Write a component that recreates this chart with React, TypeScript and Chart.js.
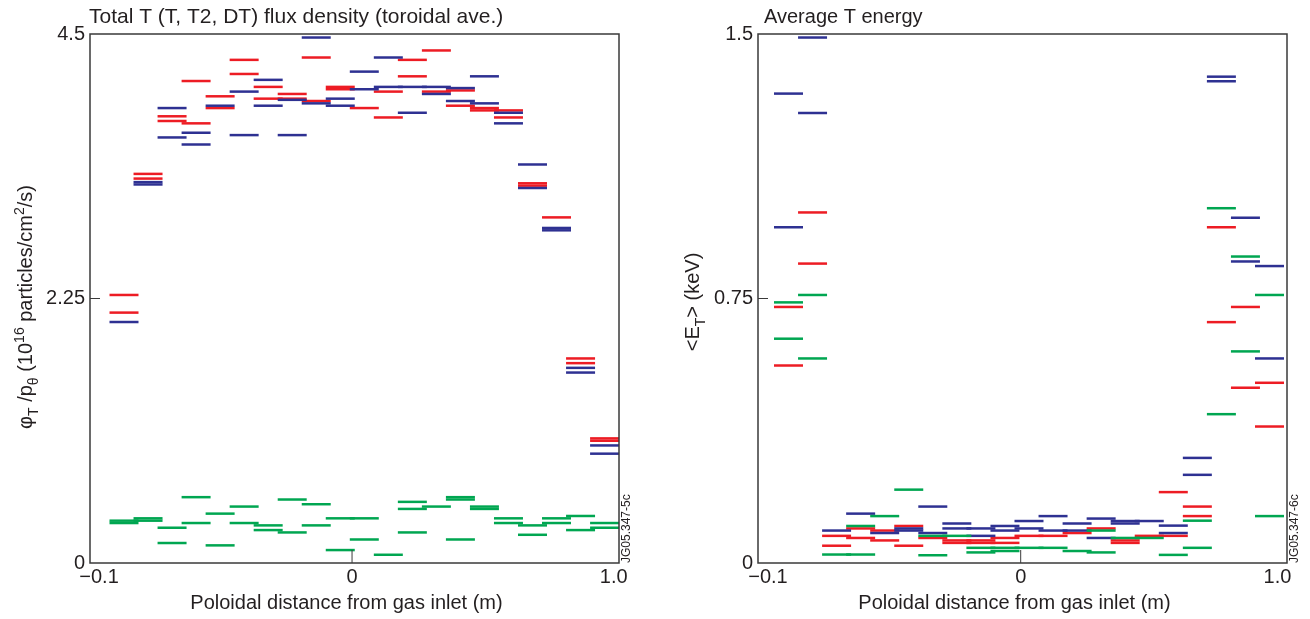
import React, { useEffect, useRef } from "react";
import { Chart, registerables } from "chart.js";
Chart.register(...registerables);

// ---------- data ----------
const binPositions = [0, 1, 2, 3, 4, 5, 6, 7, 8, 9, 10, 11, 12, 13, 14, 15, 16, 17, 18, 19, 20];
const xTickLabels = ["\u22120.1", "0", "1.0"];
const xAxisTitle = "Poloidal distance from gas inlet (m)";

const fluxTitle = "Total T (T, T2, DT) flux density (toroidal ave.)";
const fluxYTicks = [0, 2.25, 4.5];
const fluxRed1 = [2.28, 3.31, 3.80, 4.10, 3.97, 4.28, 4.05, 3.99, 4.30, 4.05, 3.87, 4.01, 4.28, 4.36, 4.02, 3.87, 3.85, 3.23, 2.94, 1.74, 1.06];
const fluxRed2 = [2.13, 3.27, 3.76, 3.74, 3.87, 4.16, 3.95, 3.95, 3.93, 4.03, null, 3.79, 4.14, 4.01, 3.89, 3.85, 3.79, 3.21, null, 1.70, 1.04];
const fluxBlue1 = [2.05, 3.24, 3.87, 3.66, 3.89, 4.01, 4.11, 3.94, 4.47, 3.95, 4.18, 4.30, 4.05, 4.05, 4.04, 4.14, 3.83, 3.39, 2.85, 1.66, 1.00];
const fluxBlue2 = [null, 3.22, 3.62, 3.56, null, 3.64, 3.89, 3.64, 3.91, 3.89, 4.03, 4.05, 3.83, 3.99, 3.93, 3.91, 3.74, 3.19, 2.83, 1.62, 0.93];
const fluxGreen1 = [0.36, 0.38, 0.30, 0.56, 0.42, 0.48, 0.32, 0.54, 0.50, 0.38, 0.38, 0.07, 0.52, 0.48, 0.56, 0.48, 0.38, 0.32, 0.38, 0.40, 0.34];
const fluxGreen2 = [0.34, 0.36, 0.17, 0.34, 0.15, 0.34, 0.28, 0.26, 0.32, 0.11, 0.20, null, 0.46, null, 0.54, 0.46, 0.34, 0.24, 0.34, 0.28, 0.30];
const fluxGreen3 = [null, null, null, null, null, null, null, null, null, null, null, null, 0.26, null, 0.20, null, null, null, null, null, null];

const energyTitle = "Average T energy";
const energyYTicks = [0, 0.75, 1.5];
const energyBlue1 = [1.331, 1.490, 0.092, 0.140, 0.085, 0.098, 0.160, 0.112, 0.098, 0.105, 0.119, 0.133, 0.112, 0.126, 0.119, 0.119, 0.106, 0.298, 1.379, 0.979, 0.842];
const energyBlue2 = [0.952, 1.276, null, null, null, 0.092, 0.085, 0.098, 0.077, 0.092, 0.098, 0.092, 0.092, 0.071, 0.112, null, 0.085, 0.250, 1.366, 0.855, 0.580];
const energyRed1 = [0.726, 0.994, 0.077, 0.098, 0.092, 0.105, 0.071, 0.064, 0.064, 0.071, 0.077, 0.077, 0.085, 0.098, 0.064, 0.077, 0.201, 0.160, 0.952, 0.726, 0.511];
const energyRed2 = [0.560, 0.849, 0.049, 0.071, 0.064, 0.049, null, 0.057, 0.057, 0.057, null, null, null, null, 0.057, null, 0.077, 0.133, 0.683, 0.497, 0.387];
const energyGreen1 = [0.739, 0.760, 0.024, 0.105, 0.133, 0.208, 0.077, 0.077, 0.043, 0.043, 0.043, 0.043, 0.034, 0.092, 0.071, 0.071, 0.023, 0.120, 1.006, 0.869, 0.760];
const energyGreen2 = [0.636, 0.580, null, 0.024, null, null, 0.022, null, 0.030, 0.034, null, null, null, 0.030, null, null, null, 0.043, 0.422, 0.600, 0.133];

// ---------- styles ----------
const RED = "#ed1c24";
const BLUE = "#2e3192";
const GREEN = "#00a651";
const TEXT = "#231f20";
const AXIS = "#3a3a3a";
const FONT = "'Liberation Sans', Arial, Helvetica, sans-serif";

type Seg = { t: string; k?: "sub" | "sup" };

interface PanelSpec {
  title: string;
  titleSize: number;
  titleDx: number;
  code: string;
  yLabel: Seg[];
  yLabelX: number;
  yLabelY: number;
  yTicks: number[];
  xMin: number;
  xMax: number;
  xTickPos: number[];
  yAxisWidth: number;
  padRight: number;
  series: { data: (number | null)[]; color: string }[];
}

function drawRich(ctx: CanvasRenderingContext2D, segs: Seg[], cx: number, cy: number, size: number) {
  ctx.save();
  ctx.translate(cx, cy);
  ctx.rotate(-Math.PI / 2);
  ctx.textAlign = "left";
  ctx.textBaseline = "alphabetic";
  ctx.fillStyle = TEXT;
  const fontFor = (s: Seg) => `${s.k ? Math.round(size * 0.68) : size}px ${FONT}`;
  let total = 0;
  const widths = segs.map((s) => {
    ctx.font = fontFor(s);
    const w = ctx.measureText(s.t).width;
    total += w;
    return w;
  });
  let x = -total / 2;
  const base = size * 0.36;
  segs.forEach((s, i) => {
    ctx.font = fontFor(s);
    let dy = 0;
    if (s.k === "sub") dy = size * 0.3;
    if (s.k === "sup") dy = -size * 0.42;
    ctx.fillText(s.t, x, base + dy);
    x += widths[i];
  });
  ctx.restore();
}

function makeDecor(spec: PanelSpec) {
  return {
    id: "decor",
    afterDraw(chart: any) {
      const { ctx, chartArea: a, scales } = chart;
      ctx.save();
      ctx.strokeStyle = AXIS;
      ctx.lineWidth = 1.5;
      ctx.strokeRect(a.left, a.top, a.right - a.left, a.bottom - a.top);
      ctx.lineWidth = 1;
      ctx.beginPath();
      const ty = scales.y.getPixelForValue(spec.yTicks[1]);
      ctx.moveTo(a.left, ty);
      ctx.lineTo(a.left + 10, ty);
      const tx = scales.x.getPixelForValue(spec.xTickPos[1]);
      ctx.moveTo(tx, a.bottom);
      ctx.lineTo(tx, a.bottom - 13);
      ctx.stroke();

      ctx.fillStyle = TEXT;
      ctx.font = `${spec.titleSize}px ${FONT}`;
      ctx.textAlign = "left";
      ctx.textBaseline = "alphabetic";
      ctx.fillText(spec.title, a.left + spec.titleDx, 23);

      ctx.font = `20px ${FONT}`;
      ctx.textAlign = "center";
      ctx.fillText(xAxisTitle, (a.left + a.right) / 2 - 8, 609);

      drawRich(ctx, spec.yLabel, spec.yLabelX, spec.yLabelY, 20);

      ctx.save();
      ctx.translate(a.right + 8, a.bottom);
      ctx.rotate(-Math.PI / 2);
      ctx.font = `12px ${FONT}`;
      ctx.textAlign = "left";
      ctx.textBaseline = "middle";
      ctx.fillText(spec.code, 0, 0);
      ctx.restore();

      ctx.restore();
    },
  };
}

function Panel({ spec }: { spec: PanelSpec }) {
  const ref = useRef<HTMLCanvasElement | null>(null);
  useEffect(() => {
    if (!ref.current) return;
    const datasets = spec.series.map((s) => ({
      data: binPositions
        .map((x, i) => ({ x, y: s.data[i] }))
        .filter((p) => p.y !== null && p.y !== undefined),
      pointStyle: "line",
      pointRadius: 14.5,
      pointHoverRadius: 14.5,
      pointBorderWidth: 2.5,
      pointHoverBorderWidth: 2.5,
      borderColor: s.color,
      backgroundColor: s.color,
      showLine: false,
      clip: false,
    }));
    const chart = new Chart(ref.current, {
      type: "scatter",
      data: { datasets } as any,
      options: {
        responsive: false,
        animation: false,
        events: [],
        layout: { padding: { left: 0, top: 34, right: spec.padRight, bottom: 0 } },
        plugins: { legend: { display: false }, tooltip: { enabled: false }, title: { display: false } },
        scales: {
          x: {
            type: "linear",
            min: spec.xMin,
            max: spec.xMax,
            grid: { display: false, drawTicks: false },
            border: { display: false },
            afterBuildTicks: (scale: any) => {
              scale.ticks = spec.xTickPos.map((v) => ({ value: v }));
            },
            afterFit: (scale: any) => {
              scale.height = 56;
            },
            ticks: {
              autoSkip: false,
              maxRotation: 0,
              padding: 2,
              color: TEXT,
              font: { size: 20, family: FONT },
              callback: (_v: any, i: number) => xTickLabels[i],
            },
          },
          y: {
            type: "linear",
            min: spec.yTicks[0],
            max: spec.yTicks[spec.yTicks.length - 1],
            grid: { display: false, drawTicks: false },
            border: { display: false },
            afterBuildTicks: (scale: any) => {
              scale.ticks = spec.yTicks.map((v) => ({ value: v }));
            },
            afterFit: (scale: any) => {
              scale.width = spec.yAxisWidth;
            },
            ticks: {
              padding: 5,
              color: TEXT,
              font: { size: 20, family: FONT },
              callback: (v: any) => String(v),
            },
          },
        },
      } as any,
      plugins: [makeDecor(spec)],
    });
    return () => chart.destroy();
  }, [spec]);
  return <canvas ref={ref} width={655} height={619} style={{ display: "block", width: 655, height: 619 }} />;
}

const fluxSpec: PanelSpec = {
  title: fluxTitle,
  titleSize: 21,
  titleDx: -1,
  code: "JG05.347-5c",
  yLabel: [
    { t: "\u03c6" },
    { t: "T", k: "sub" },
    { t: " /p" },
    { t: "\u03b8", k: "sub" },
    { t: " (10" },
    { t: "16", k: "sup" },
    { t: " particles/cm" },
    { t: "2", k: "sup" },
    { t: "/s)" },
  ],
  yLabelX: 25,
  yLabelY: 307,
  yTicks: fluxYTicks,
  xMin: -1.415,
  xMax: 20.6,
  xTickPos: [-1.04, 9.49, 20.38],
  yAxisWidth: 90,
  padRight: 36,
  series: [
    { data: fluxGreen1, color: GREEN },
    { data: fluxGreen2, color: GREEN },
    { data: fluxGreen3, color: GREEN },
    { data: fluxBlue1, color: BLUE },
    { data: fluxBlue2, color: BLUE },
    { data: fluxRed1, color: RED },
    { data: fluxRed2, color: RED },
  ],
};

const energySpec: PanelSpec = {
  title: energyTitle,
  titleSize: 20,
  titleDx: 6,
  code: "JG05.347-6c",
  yLabel: [{ t: "<E" }, { t: "T", k: "sub" }, { t: "> (keV)" }],
  yLabelX: 692 - 655,
  yLabelY: 302,
  yTicks: energyYTicks,
  xMin: -1.268,
  xMax: 20.728,
  xTickPos: [-0.852, 9.655, 20.33],
  yAxisWidth: 103,
  padRight: 23,
  series: [
    { data: energyGreen1, color: GREEN },
    { data: energyGreen2, color: GREEN },
    { data: energyBlue1, color: BLUE },
    { data: energyBlue2, color: BLUE },
    { data: energyRed1, color: RED },
    { data: energyRed2, color: RED },
  ],
};

export default function App() {
  return (
    <div style={{ position: "absolute", left: 0, top: 0, width: 1310, height: 619, background: "#fff", display: "flex" }}>
      <Panel spec={fluxSpec} />
      <Panel spec={energySpec} />
    </div>
  );
}
